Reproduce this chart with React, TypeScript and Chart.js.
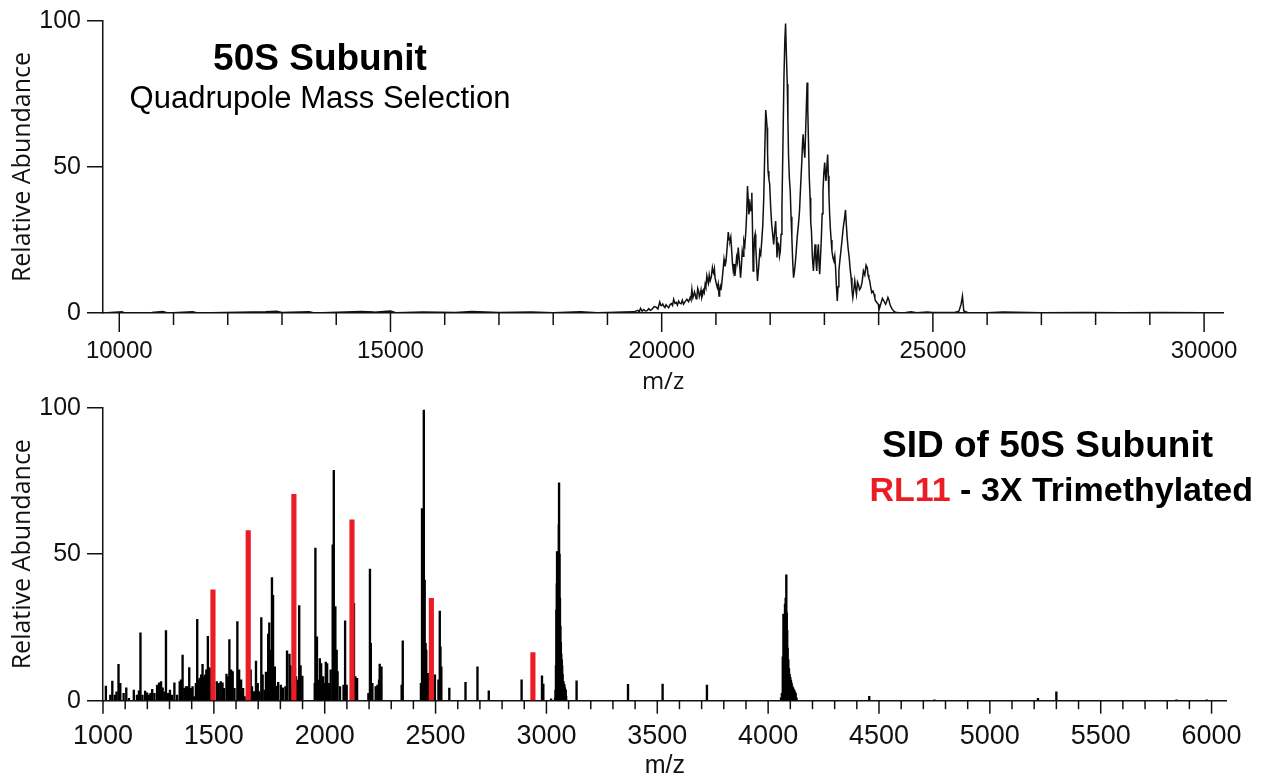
import { useEffect, useRef } from 'react';
import { Chart, registerables } from 'chart.js';

Chart.register(...registerables);

// ---------- Top panel: 50S subunit, quadrupole mass selection ----------
const topMz = [
  9700, 10050, 10100, 10600, 10800, 10900, 11350, 11450, 12700, 12900,
  13000, 13500, 13600, 14450, 14700, 15000, 15100, 15600, 16200, 16500,
  17000, 17600, 18000, 18500, 18817, 19000, 19305, 19488, 19560, 19585,
  19610, 19640, 19670, 19700, 19733, 19760, 19790, 19824, 19860, 19900,
  19930, 19965, 19985, 20000, 20020, 20038, 20060, 20080, 20105, 20129,
  20155, 20180, 20200, 20221, 20245, 20270, 20290, 20313, 20335, 20360,
  20380, 20404, 20435, 20465, 20495, 20526, 20540, 20557, 20575, 20590,
  20605, 20618, 20635, 20650, 20665, 20679, 20695, 20710, 20725, 20740,
  20755, 20770, 20785, 20801, 20815, 20832, 20846, 20860, 20876, 20893,
  20915, 20935, 20948, 20960, 20972, 20984, 21005, 21027, 21042, 21057,
  21068, 21080, 21093, 21106, 21128, 21149, 21167, 21186, 21207, 21228,
  21245, 21259, 21274, 21289, 21305, 21320, 21335, 21350, 21366, 21381,
  21396, 21411, 21432, 21454, 21470, 21485, 21500, 21515, 21533, 21552,
  21567, 21582, 21595, 21607, 21620, 21631, 21647, 21662, 21675, 21686,
  21698, 21711, 21723, 21735, 21750, 21766, 21787, 21808, 21826, 21845,
  21864, 21882, 21900, 21918, 21930, 21943, 21952, 21961, 21976, 21991,
  22010, 22028, 22046, 22065, 22083, 22101, 22113, 22126, 22141, 22156,
  22172, 22187, 22202, 22217, 22236, 22254, 22270, 22284, 22300, 22315,
  22327, 22339, 22355, 22370, 22385, 22400, 22415, 22431, 22446, 22462,
  22480, 22498, 22520, 22541, 22563, 22584, 22596, 22608, 22624, 22639,
  22660, 22681, 22693, 22705, 22720, 22736, 22748, 22761, 22779, 22797,
  22812, 22828, 22843, 22858, 22873, 22889, 22901, 22913, 22928, 22944,
  22959, 22974, 22990, 23005, 23017, 23029, 23045, 23060, 23072, 23084,
  23096, 23109, 23124, 23139, 23157, 23176, 23191, 23206, 23222, 23237,
  23252, 23267, 23285, 23304, 23325, 23347, 23368, 23389, 23405, 23420,
  23438, 23457, 23475, 23493, 23508, 23524, 23542, 23560, 23575, 23591,
  23610, 23627, 23648, 23670, 23695, 23719, 23745, 23768, 23790, 23805,
  23820, 23835, 23852, 23872, 23895, 23915, 23930, 23945, 23970, 23994,
  24006, 24037, 24070, 24098, 24128, 24150, 24171, 24190, 24207, 24230,
  24250, 24280, 24311, 24372,
  24500, 24600, 24700, 24900, 25000, 25400, 25480, 25520, 25545, 25570,
  25650, 26000, 26300, 27000, 27800, 28500, 29200, 30000, 30350,
];
const topAbundance = [
  0, 0.4, 0, 0.2, 0.5, 0, 0.4, 0, 0.4, 0.6,
  0.2, 0.4, 0, 0.5, 0.3, 0.7, 0.1, 0.3, 0.2, 0.5,
  0.2, 0.3, 0.1, 0.4, 0.1, 0.2, 0.3, 0.4, 0.9, 0.3,
  1.6, 0.6, 1.2, 0.7, 0.8, 1.5, 0.9, 1.3, 2.2, 2.0,
  1.4, 3.8, 2.6, 2.5, 3.1, 2.4, 1.9, 2.8, 2.2, 1.8,
  2.9, 3.2, 2.6, 4.7, 3.3, 3.6, 2.7, 4.1, 3.4, 3.2,
  4.4, 3.0, 4.0, 4.7, 3.9, 5.3, 4.6, 8.1, 5.2, 6.0,
  7.2, 6.4, 4.9, 5.8, 8.4, 7.5, 5.6, 6.5, 7.9, 5.3,
  6.2, 7.8, 7.0, 9.8, 8.9, 12.7, 11.3, 10.2, 13.0, 11.0,
  12.4, 15.5, 14.0, 13.5, 15.0, 12.1, 10.2, 8.7, 10.0, 5.8,
  7.4, 9.0, 7.8, 9.8, 14.0, 18.4, 16.0, 17.8, 22.5, 27.7,
  25.0, 24.7, 26.0, 21.8, 17.0, 14.4, 16.8, 12.7, 15.6, 19.0,
  17.5, 22.4, 18.0, 12.1, 16.0, 21.2, 19.4, 24.7, 23.2, 28.1,
  34.0, 43.5, 39.0, 33.8, 35.5, 37.2, 35.0, 41.2, 28.0, 14.4,
  19.0, 25.8, 27.0, 22.4, 17.0, 11.0, 15.5, 21.2, 20.0, 24.7,
  30.0, 39.5, 55.0, 69.5, 67.0, 63.5, 55.0, 48.6, 46.0, 44.1,
  36.0, 30.4, 27.0, 23.5, 28.0, 31.5, 26.0, 19.0, 24.0, 23.5,
  19.5, 21.2, 27.0, 36.1, 58.0, 80.6, 93.0, 99.1, 88.0, 78.3,
  66.0, 53.8, 46.0, 41.8, 33.0, 25.8, 18.0, 12.1, 14.0, 16.7,
  21.0, 25.8, 30.0, 34.9, 44.0, 52.1, 58.0, 61.2, 56.0, 53.2,
  66.0, 78.9, 70.0, 60.0, 47.0, 39.5, 31.0, 28.1, 19.0, 14.4,
  19.0, 23.5, 18.0, 14.4, 20.0, 23.5, 17.0, 13.3, 19.0, 25.8,
  34.0, 41.8, 48.0, 51.5, 48.0, 45.2, 50.0, 54.3, 47.0, 40.6,
  34.0, 29.2, 25.0, 21.2, 19.0, 17.8, 19.5, 15.5, 9.0, 4.1,
  9.0, 14.4, 18.0, 21.2, 25.0, 29.2, 32.0, 35.3, 30.0, 25.8,
  22.0, 19.0, 15.0, 12.1, 8.0, 5.3, 8.0, 11.0, 8.5, 6.4,
  10.6, 9.8, 8.0, 8.7, 10.5, 14.4, 13.0, 16.4, 15.5, 13.0,
  12.0, 11.0, 9.0, 7.0, 7.5, 6.4, 5.0, 4.1, 3.5, 3.0,
  1.0, 3.0, 5.0, 4.1, 3.0, 4.0, 5.3, 4.5, 3.0, 2.0,
  1.3, 0.6, 0.3, 0.1,
  0.2, 0.4, 0.1, 0.3, 0.2, 0.2, 0.6, 3.0, 5.8, 0.7,
  0.1, 0.1, 0.3, 0.1, 0.2, 0.1, 0.2, 0.1, 0,
];
const topXTicks = [
  10000, 11000, 12000, 13000, 14000, 15000, 16000, 17000, 18000, 19000, 20000,
  21000, 22000, 23000, 24000, 25000, 26000, 27000, 28000, 29000, 30000,
];
const topXLabelStep = 5000;
const yTicks = [0, 50, 100];

// ---------- Bottom panel: SID of 50S subunit (stick spectrum) ----------
const sidMz = [
  1013, 1033, 1042, 1053, 1061, 1070, 1074, 1078, 1093, 1105,
  1117, 1139, 1153, 1162, 1169, 1178, 1190, 1199, 1208, 1214,
  1222, 1232, 1244, 1253, 1262, 1269, 1277, 1284, 1293, 1302,
  1311, 1322, 1334, 1346, 1352, 1359, 1367, 1374, 1382, 1389,
  1397, 1404, 1412, 1419, 1425, 1431, 1437, 1443, 1449, 1455,
  1461, 1466, 1473, 1479, 1485, 1490, 1513, 1522, 1531, 1539,
  1546, 1557, 1564, 1570, 1578, 1585, 1593, 1606, 1614, 1623,
  1632, 1639, 1650, 1666, 1672, 1681, 1690, 1698, 1705, 1714,
  1720, 1729, 1735, 1745, 1750, 1755, 1762, 1767, 1775, 1783,
  1790, 1802, 1811, 1823, 1830, 1841, 1846, 1855, 1871, 1877,
  1885, 1891, 1899, 1955, 1958, 1965, 1973, 1978, 1984, 1993,
  2000, 2005, 2011, 2019, 2027, 2036, 2041, 2048, 2054, 2058,
  2069, 2085, 2092, 2099, 2132, 2138, 2146, 2197, 2204, 2208,
  2215, 2230, 2238, 2245, 2248, 2256, 2347, 2352, 2434, 2439,
  2443, 2447, 2451, 2455, 2458, 2465, 2470, 2489, 2497, 2513,
  2519, 2522, 2526, 2562, 2635, 2689, 2740, 2888, 2980, 2986,
  3021, 3039, 3041, 3043, 3045, 3047, 3048, 3050, 3052, 3054,
  3056, 3057, 3059, 3061, 3063, 3065, 3067, 3069, 3071, 3073,
  3075, 3077, 3079, 3081, 3083, 3085, 3087, 3089, 3136, 3368,
  3524, 3724, 4058, 4062, 4066, 4069, 4072, 4076, 4079, 4082,
  4084, 4086, 4088, 4091, 4094, 4097, 4100, 4103, 4106, 4109,
  4112, 4115, 4118, 4121, 4124, 4128, 4456, 4750, 5217, 5300,
  5842, 5978,
];
const sidAbundance = [
  5.0, 1.9, 6.7, 1.9, 3.0, 12.4, 3.0, 5.9, 2.5, 4.4,
  0.8, 3.6, 1.9, 3.4, 23.2, 1.9, 3.3, 2.7, 1.9, 2.5,
  3.9, 2.5, 5.3, 6.1, 6.5, 4.4, 3.0, 23.9, 2.5, 3.6,
  1.9, 6.1, 1.9, 6.5, 7.1, 15.6, 4.2, 4.8, 4.8, 11.3,
  4.2, 4.8, 1.4, 5.9, 27.8, 7.1, 7.7, 8.8, 12.4, 8.2,
  8.8, 10.5, 22.0, 11.3, 11.0, 9.0, 6.5, 5.9, 6.5, 6.1,
  4.2, 9.1, 8.2, 20.9, 10.5, 9.9, 4.2, 27.0, 10.5, 7.1,
  4.2, 1.4, 3.0, 10.5, 4.8, 3.1, 13.5, 5.9, 3.1, 28.4,
  8.8, 3.6, 9.8, 22.7, 26.6, 17.3, 42.0, 36.0, 11.6, 5.0,
  6.3, 5.3, 4.4, 4.8, 17.0, 15.9, 12.0, 5.0, 8.2, 7.0,
  32.5, 12.0, 8.4, 5.9, 52.1, 21.8, 7.1, 14.4, 12.7, 8.2,
  5.9, 13.2, 12.7, 5.9, 10.5, 53.2, 78.6, 32.1, 17.3, 9.9,
  4.8, 5.3, 27.3, 5.3, 33.2, 8.2, 7.6, 2.5, 44.9, 19.6,
  5.9, 4.8, 5.3, 7.1, 12.5, 11.6, 5.3, 20.4, 5.9, 65.6,
  46.3, 99.2, 41.2, 19.6, 17.3, 9.3, 8.0, 7.1, 8.8, 7.1,
  30.6, 18.4, 11.6, 4.3, 6.3, 11.6, 3.4, 7.1, 8.5, 5.7,
  0.6, 1.0, 3.6, 12.0, 31.0, 40.0, 50.9, 44.0, 37.0, 45.0,
  60.0, 74.4, 50.0, 35.0, 25.5, 20.0, 16.0, 14.0, 12.0, 9.0,
  6.0, 6.5, 5.0, 5.5, 4.5, 4.0, 3.5, 1.5, 6.8, 5.6,
  5.7, 5.3, 1.0, 2.5, 15.0, 29.6, 24.0, 33.0, 35.0, 43.0,
  30.0, 24.0, 18.0, 14.0, 11.0, 9.0, 8.0, 7.0, 6.0, 5.0,
  4.5, 4.0, 3.5, 3.0, 2.5, 1.0, 1.5, 0.3, 0.8, 3.0,
  0.3, 0.3,
];
// RL11 (3x trimethylated) charge-state series, highlighted in red
const rl11Mz = [1496, 1655, 1861, 2123, 2481, 2939];
const rl11Abundance = [37.8, 58.1, 70.4, 61.7, 34.9, 16.4];
const sidXTicks = [
  1000, 1100, 1200, 1300, 1400, 1500, 1600, 1700, 1800, 1900,
  2000, 2100, 2200, 2300, 2400, 2500, 2600, 2700, 2800, 2900,
  3000, 3100, 3200, 3300, 3400, 3500, 3600, 3700, 3800, 3900,
  4000, 4100, 4200, 4300, 4400, 4500, 4600, 4700, 4800, 4900,
  5000, 5100, 5200, 5300, 5400, 5500, 5600, 5700, 5800, 5900,
  6000,
];
const sidXLabelStep = 500;

const INK = '#111111';
const RED = '#EC1C24';
const SANS = "'Liberation Sans', Arial, sans-serif";
const OPEN = "'Open Sans', 'Liberation Sans', sans-serif";

// Draws x tick marks: longer at labelled (major) values, shorter for the others.
const tickMarks = {
  id: 'tickMarks',
  afterDraw(chart: any, _args: any, opts: any) {
    const xs = chart.scales.x;
    const ctx = chart.ctx;
    ctx.save();
    ctx.strokeStyle = opts.color;
    ctx.lineWidth = opts.width;
    for (const t of xs.ticks) {
      const px = xs.getPixelForValue(t.value);
      const len = Math.abs(t.value % opts.majorStep) < 1e-6 ? opts.majorLen : opts.minorLen;
      ctx.beginPath();
      ctx.moveTo(px, xs.top);
      ctx.lineTo(px, xs.top + len);
      ctx.stroke();
    }
    ctx.restore();
  },
};

function yScale(titleFont: number, tickFont: number) {
  return {
    min: 0,
    max: 100,
    afterFit: (s: any) => {
      s.width = 103;
    },
    afterBuildTicks: (s: any) => {
      s.ticks = yTicks.map((value) => ({ value }));
    },
    ticks: {
      padding: 6,
      color: INK,
      font: { family: SANS, size: tickFont },
    },
    grid: { drawOnChartArea: false, tickLength: 16, color: INK, lineWidth: 1.5 },
    border: { color: INK, width: 1.5 },
    title: {
      display: true,
      text: 'Relative Abundance',
      color: INK,
      font: { family: OPEN, size: titleFont },
      padding: { top: 8, bottom: 0 },
    },
  };
}

function TopChart() {
  const ref = useRef<HTMLCanvasElement>(null);
  useEffect(() => {
    if (!ref.current) return;
    const chart = new Chart(ref.current, {
      type: 'line',
      data: {
        datasets: [
          {
            label: '50S',
            data: topMz.map((x, i) => ({ x, y: topAbundance[i] })),
            borderColor: INK,
            borderWidth: 1.5,
            pointRadius: 0,
            tension: 0,
            fill: false,
          },
        ],
      },
      options: {
        animation: false,
        responsive: false,
        maintainAspectRatio: false,
        layout: { padding: { left: 0, top: 20, right: 32, bottom: 0 } },
        plugins: {
          legend: { display: false },
          tooltip: { enabled: false },
          tickMarks: { color: INK, width: 1.5, majorStep: topXLabelStep, majorLen: 19, minorLen: 12 },
        } as any,
        scales: {
          x: {
            type: 'linear',
            min: 9700,
            max: 30350,
            afterFit: (s: any) => {
              s.height = 87;
            },
            afterBuildTicks: (s: any) => {
              s.ticks = topXTicks.map((value) => ({ value }));
            },
            ticks: {
              autoSkip: false,
              maxRotation: 0,
              padding: 24,
              color: INK,
              font: { family: SANS, size: 24 },
              callback: (v: any) => (v % topXLabelStep === 0 ? String(v) : ''),
            },
            grid: { drawOnChartArea: false, drawTicks: false },
            border: { color: INK, width: 1.5 },
            title: {
              display: true,
              text: 'm/z',
              color: INK,
              font: { family: OPEN, size: 24 },
              padding: { top: 0, bottom: 3 },
            },
          },
          y: yScale(25, 25) as any,
        },
      },
      plugins: [tickMarks as any],
    });
    return () => chart.destroy();
  }, []);
  return <canvas ref={ref} width={1262} height={400} style={{ position: 'absolute', left: 0, top: 0 }} />;
}

function BottomChart() {
  const ref = useRef<HTMLCanvasElement>(null);
  useEffect(() => {
    if (!ref.current) return;
    const chart = new Chart(ref.current, {
      type: 'bar',
      data: {
        datasets: [
          {
            label: 'RL11',
            data: rl11Mz.map((x, i) => ({ x, y: rl11Abundance[i] })),
            backgroundColor: RED,
            borderWidth: 0,
            barThickness: 4.5,
            grouped: false,
            order: 0,
          },
          {
            label: 'SID',
            data: sidMz.map((x, i) => ({ x, y: sidAbundance[i] })),
            backgroundColor: '#000000',
            borderWidth: 0,
            barThickness: 1.7,
            grouped: false,
            order: 1,
          },
        ],
      },
      options: {
        animation: false,
        responsive: false,
        maintainAspectRatio: false,
        layout: { padding: { left: 0, top: 27.7, right: 30, bottom: 0 } },
        plugins: {
          legend: { display: false },
          tooltip: { enabled: false },
          tickMarks: { color: INK, width: 1.5, majorStep: sidXLabelStep, majorLen: 13, minorLen: 8.5 },
        } as any,
        scales: {
          x: {
            type: 'linear',
            min: 1000,
            max: 6068,
            offset: false,
            afterFit: (s: any) => {
              s.height = 77.3;
            },
            afterBuildTicks: (s: any) => {
              s.ticks = sidXTicks.map((value) => ({ value }));
            },
            ticks: {
              autoSkip: false,
              maxRotation: 0,
              padding: 20,
              color: INK,
              font: { family: SANS, size: 27 },
              callback: (v: any) => (v % sidXLabelStep === 0 ? String(v) : ''),
            },
            grid: { drawOnChartArea: false, drawTicks: false, offset: false },
            border: { color: INK, width: 1.5 },
            title: {
              display: true,
              text: 'm/z',
              color: INK,
              font: { family: SANS, size: 25 },
              padding: { top: 0, bottom: -3 },
            },
          },
          y: yScale(25, 25) as any,
        },
      },
      plugins: [tickMarks as any],
    });
    return () => chart.destroy();
  }, []);
  return <canvas ref={ref} width={1262} height={398} style={{ position: 'absolute', left: 0, top: 380 }} />;
}

const titleBase: any = {
  position: 'absolute',
  whiteSpace: 'nowrap',
  fontFamily: SANS,
  lineHeight: 1,
  color: '#000',
  margin: 0,
};

export default function App() {
  return (
    <div style={{ position: 'absolute', left: 0, top: 0, width: 1262, height: 778, background: '#fff', overflow: 'hidden' }}>
      <TopChart />
      <BottomChart />
      <div style={{ ...titleBase, left: 320, top: 39, transform: 'translateX(-50%)', fontSize: 37, fontWeight: 700 }}>
        50S Subunit
      </div>
      <div style={{ ...titleBase, left: 320, top: 82, transform: 'translateX(-50%)', fontSize: 31 }}>
        Quadrupole Mass Selection
      </div>
      <div style={{ ...titleBase, right: 1262 - 1213, top: 426, fontSize: 37, fontWeight: 700 }}>
        SID of 50S Subunit
      </div>
      <div style={{ ...titleBase, right: 1262 - 1253, top: 472, fontSize: 34, fontWeight: 700 }}>
        <span style={{ color: RED }}>RL11</span> - 3X Trimethylated
      </div>
    </div>
  );
}
